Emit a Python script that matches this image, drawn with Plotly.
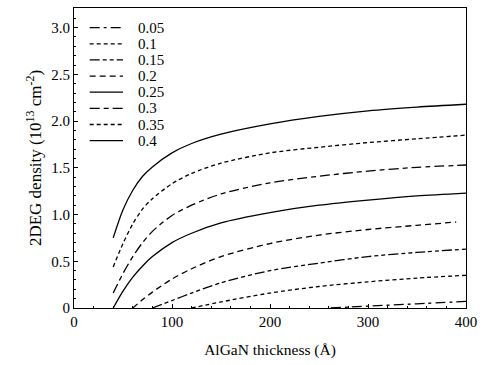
import plotly.graph_objects as go

labels = ["0.05", "0.1", "0.15", "0.2", "0.25", "0.3", "0.35", "0.4"]

x_005 = [262, 300, 350, 400]
y_005 = [0.0, 0.02, 0.045, 0.07]

x_01 = [120, 150, 200, 250, 300, 350, 400]
y_01 = [0.0, 0.065, 0.16, 0.23, 0.28, 0.32, 0.35]

x_015 = [80, 100, 120, 150, 200, 250, 300, 350, 400]
y_015 = [0.0, 0.08, 0.16, 0.27, 0.40, 0.48, 0.55, 0.595, 0.63]

x_02 = [60, 70, 80, 100, 120, 150, 200, 250, 300, 350, 390]
y_02 = [0.0, 0.09, 0.17, 0.31, 0.42, 0.55, 0.69, 0.78, 0.84, 0.885, 0.92]

x_025 = [40, 50, 60, 70, 80, 100, 120, 150, 200, 250, 300, 350, 400]
y_025 = [0.0, 0.18, 0.33, 0.45, 0.55, 0.70, 0.80, 0.91, 1.02, 1.10, 1.155, 1.20, 1.23]

x_03 = [40, 50, 60, 70, 80, 100, 120, 150, 200, 250, 300, 350, 400]
y_03 = [0.16, 0.37, 0.55, 0.70, 0.82, 0.99, 1.10, 1.22, 1.34, 1.41, 1.465, 1.505, 1.53]

x_035 = [40, 50, 60, 70, 80, 100, 120, 150, 200, 250, 300, 350, 400]
y_035 = [0.44, 0.69, 0.90, 1.06, 1.17, 1.33, 1.44, 1.55, 1.66, 1.72, 1.77, 1.81, 1.85]

x_04 = [40, 50, 60, 70, 80, 100, 120, 150, 200, 250, 300, 350, 400]
y_04 = [0.75, 1.05, 1.26, 1.41, 1.51, 1.66, 1.76, 1.86, 1.97, 2.05, 2.11, 2.15, 2.18]

x_tick_vals = [0, 100, 200, 300, 400]
x_tick_text = ["0", "100", "200", "300", "400"]
y_tick_vals = [0, 0.5, 1.0, 1.5, 2.0, 2.5, 3.0]
y_tick_text = ["0", "0.5", "1.0", "1.5", "2.0", "2.5", "3.0"]

xs = [x_005, x_01, x_015, x_02, x_025, x_03, x_035, x_04]
ys = [y_005, y_01, y_015, y_02, y_025, y_03, y_035, y_04]
dashes = [
    "10px,4px,3px,4px",
    "4px,3px",
    "10px,3px,4px,3px,4px,3px",
    "6px,4px",
    "solid",
    "10px,4px,5px,4px",
    "4px,3px",
    "solid",
]

font = "Liberation Serif, Times New Roman, Times, serif"

fig = go.Figure()
for lab, xv, yv, d in zip(labels, xs, ys, dashes):
    fig.add_trace(go.Scatter(
        x=xv, y=yv, mode="lines", name=lab, showlegend=False,
        line=dict(color="black", width=1.3, dash=d, shape="spline", smoothing=0.8),
    ))

# legend drawn as shapes + annotations (top-left, inside plot)
leg_top_px = 26.7
leg_step_px = 16.2
plot_top_px, plot_bottom_px = 7, 308
plot_h = plot_bottom_px - plot_top_px
for i, (lab, d) in enumerate(zip(labels, dashes)):
    py = leg_top_px + i * leg_step_px
    yp = (plot_bottom_px - py) / plot_h
    fig.add_shape(type="line", xref="paper", yref="paper",
                  x0=0.04, x1=0.125, y0=yp, y1=yp,
                  line=dict(color="black", width=1.3, dash=d))
    fig.add_annotation(xref="paper", yref="paper", x=0.1575, y=yp,
                       xanchor="left", yanchor="middle", text=lab, showarrow=False,
                       font=dict(family=font, size=15, color="black"))

axis_common = dict(
    showline=True, linecolor="black", linewidth=1.2, mirror=True,
    ticks="inside", ticklen=4, tickcolor="black", showgrid=False, zeroline=False,
    tickfont=dict(family=font, size=15, color="black"),
)
fig.update_xaxes(
    range=[0, 400], tickvals=x_tick_vals, ticktext=x_tick_text,
    ticklabeloverflow="allow",
    minor=dict(ticks="inside", ticklen=2, dtick=20, tickcolor="black"),
    title=dict(text="AlGaN thickness (Å)", font=dict(family=font, size=15.5, color="black"), standoff=15),
    **axis_common,
)
fig.update_yaxes(
    range=[0, 3.21], tickvals=y_tick_vals, ticktext=y_tick_text,
    minor=dict(ticks="inside", ticklen=2, tickvals=[i / 10 for i in range(33)], tickcolor="black"),
    title=dict(text="2DEG density (10<sup>13</sup> cm<sup>-2</sup>)", font=dict(family=font, size=17, color="black"), standoff=5),
    **axis_common,
)
fig.update_layout(
    width=484, height=365,
    margin=dict(l=74, r=10, t=7, b=57),
    plot_bgcolor="white", paper_bgcolor="white",
    showlegend=False,
)
fig.write_html("out.html")
